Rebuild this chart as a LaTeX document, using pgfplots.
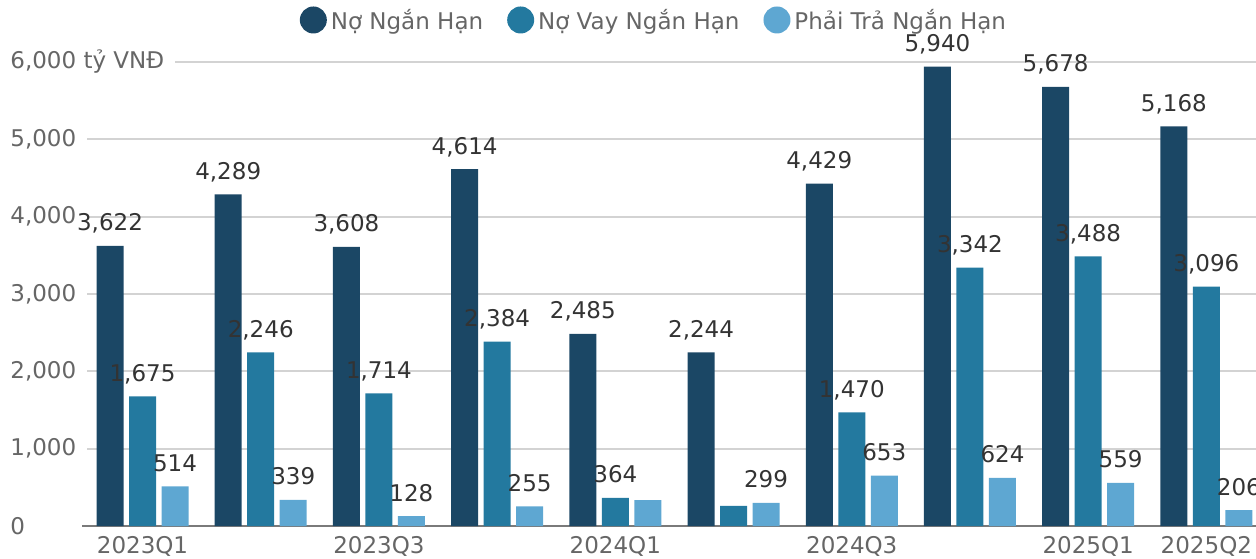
\documentclass[border=0pt]{standalone}
\usepackage{fontspec}
\setmainfont{DejaVu Sans}
\usepackage{pgfplots}
\usepackage{pgfplotstable}
\pgfplotsset{compat=1.18}
\definecolor{cA}{HTML}{1B4765}
\definecolor{cB}{HTML}{23799F}
\definecolor{cC}{HTML}{5EA7D2}
\definecolor{gridc}{HTML}{D3D3D3}
\definecolor{axc}{HTML}{7A7A7A}
\definecolor{tickc}{HTML}{666666}
\definecolor{labc}{HTML}{333333}
\newcommand\fs{\fontsize{11.5}{13.8}\selectfont}
\pgfplotstableread{
x a b c la lb lc
0 3622 1675 514 3,622 1,675 514
1 4289 2246 339 4,289 2,246 339
2 3608 1714 128 3,608 1,714 128
3 4614 2384 255 4,614 2,384 255
4 2485 364 336 2,485 364 {}
5 2244 259 299 2,244 {} 299
6 4429 1470 653 4,429 1,470 653
7 5940 3342 624 5,940 3,342 624
8 5678 3488 559 5,678 3,488 559
9 5168 3096 206 5,168 3,096 206
}\data
\begin{document}
\begin{tikzpicture}
\begin{axis}[
  scale only axis, width=587pt, height=232pt,
  xmin=-0.512, xmax=9.42, ymin=0, ymax=6000,
  ybar=2.75pt, bar width=13.5pt,
  axis x line*=bottom, axis y line*=left,
  x axis line style={draw=axc, line width=1pt},
  y axis line style={draw=none},
  ymajorgrids, major grid style={draw=gridc, line width=1pt},
  major tick length=0pt,
  xtick={0,2,4,6,8,9},
  xticklabels={2023Q1,2023Q3,2024Q1,2024Q3,2025Q1,2025Q2},
  ytick={0,1000,2000,3000,4000,5000,6000},
  yticklabels={0,{1,000},{2,000},{3,000},{4,000},{5,000},{6,000 tỷ VNĐ}},
  tick label style={font=\fs, text=tickc},
  xticklabel style={anchor=north, inner sep=0pt, yshift=-5pt},
  yticklabel style={anchor=west, inner xsep=5.5pt, inner ysep=0pt, fill=white, xshift=-41.5pt},
  clip=false,
  nodes near coords, point meta=explicit symbolic,
  every node near coord/.append style={font=\fs, text=labc, anchor=base, inner sep=0pt, yshift=7.5pt},
  legend columns=3,
  legend style={at={(0.488,1.088)}, anchor=center, draw=none, fill=none,
    font=\fs, text=tickc,
    /tikz/every even column/.append style={column sep=10pt}},
  legend image code/.code={\fill[#1,draw=none] (6.75pt,0.6pt) circle (6.75pt);},
]
\addplot[fill=cA, draw=none] table[x=x, y=a, meta=la] {\data};
\addlegendentry{Nợ Ngắn Hạn}
\addplot[fill=cB, draw=none] table[x=x, y=b, meta=lb] {\data};
\addlegendentry{Nợ Vay Ngắn Hạn}
\addplot[fill=cC, draw=none] table[x=x, y=c, meta=lc] {\data};
\addlegendentry{Phải Trả Ngắn Hạn}
\end{axis}
\pgfresetboundingbox
\path[use as bounding box] (-41pt,-16pt) rectangle (587pt,263pt);
\end{tikzpicture}
\end{document}
